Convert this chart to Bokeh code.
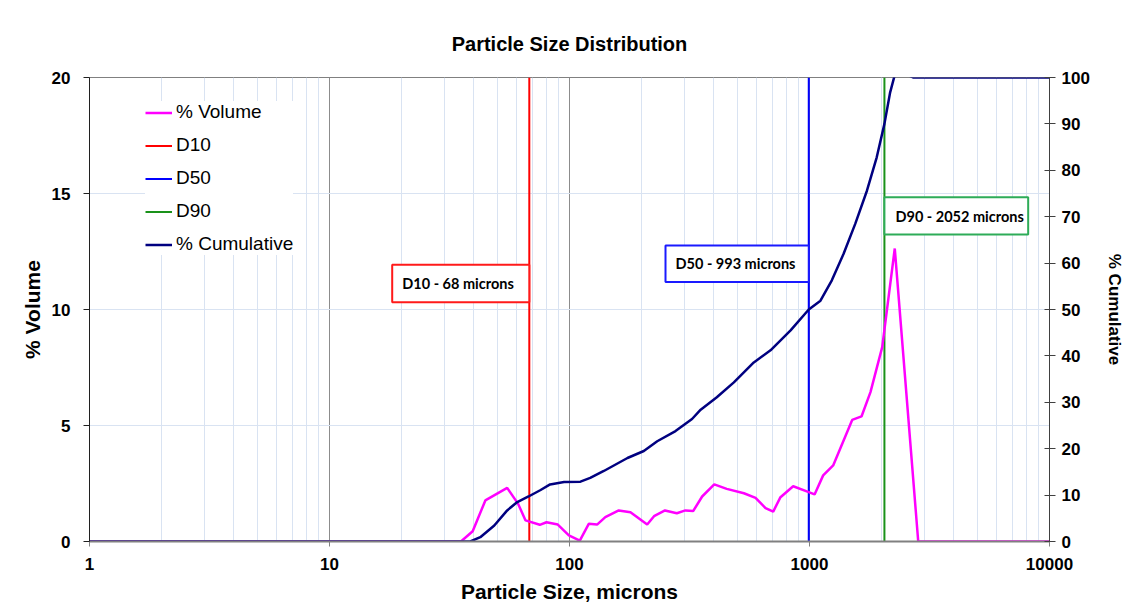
from bokeh.plotting import figure
from bokeh.models import (Range1d, LinearAxis, FixedTicker, Legend, LegendItem,
                          CustomJSTickFormatter)
from bokeh.embed import file_html
from bokeh.resources import INLINE
from bokeh.core.properties import value

# ---------------- data ----------------
size_vol = [1, 35.3, 39.5, 44.6, 55.0, 61.1, 65.6, 75.2, 80.2, 89.4, 99.4, 110.4,
            120.3, 130.3, 141, 160.4, 179.5, 210.7, 225, 250, 280, 304, 327.5, 357,
            401, 452, 533, 596, 656, 706, 757, 855, 993, 1050, 1140, 1255, 1506,
            1647, 1795, 2009, 2266, 2838, 10000]
pct_vol = [0, 0, 0.44, 1.77, 2.31, 1.62, 0.91, 0.72, 0.83, 0.73, 0.26, 0.04,
           0.76, 0.73, 1.05, 1.34, 1.26, 0.73, 1.09, 1.34, 1.22, 1.34, 1.31, 1.94,
           2.46, 2.27, 2.08, 1.88, 1.44, 1.29, 1.91, 2.38, 2.13, 2.03, 2.85, 3.28, 5.24,
           5.39, 6.44, 8.38, 12.63, 0, 0]

size_cum = [1, 38.6, 42.5, 48.6, 55.0, 60.6, 67.5, 75.8, 83.0, 94.9, 111.1, 122,
            139, 174.4, 204, 232, 276.5, 324, 352, 411, 484, 586, 688, 834, 993,
            1111, 1239, 1387, 1552, 1735, 1906, 2052, 2168, 2262, 2500, 2713, 10000]
pct_cum = [0, 0, 0.93, 3.45, 6.7, 8.5, 9.7, 11.1, 12.3, 12.8, 12.9, 13.7,
           15.2, 18.0, 19.5, 21.6, 23.8, 26.4, 28.4, 31.1, 34.3, 38.6, 41.2, 45.5, 50.0,
           51.9, 56.3, 62.0, 68.5, 75.6, 82.8, 90.0, 96.8, 100.4, 100.8, 100.0, 100.0]

d_names = ["D10", "D50", "D90"]
d_values = [68, 993, 2052]
d_labels = ["D10 - 68 microns", "D50 - 993 microns", "D90 - 2052 microns"]

x_ticks = [1, 10, 100, 1000, 10000]
y_ticks = [0, 5, 10, 15, 20]
cum_ticks = [0, 10, 20, 30, 40, 50, 60, 70, 80, 90, 100]

# ---------------- styles / layout ----------------
PINK = "#ff00ff"
NAVY = "#000080"
D_LINE_COLORS = ["#ff0000", "#0000ff", "#1a921a"]
D_BOX_COLORS = ["#ff1a1a", "#1a1aff", "#2eac58"]
MINOR_GRID = "#d9e3f2"
MAJOR_GRID = "#8c8c8c"
FONT = "Liberation Sans"

# annotation boxes (data coordinates)
box_left = [18.25, 251.2, 2052]
box_right = [68, 993, 8150]
box_bottom = [10.31, 11.18, 13.23]
box_top = [11.93, 12.76, 14.84]
text_x = [20.1, 276.5, 2281]
text_y = [11.12, 11.97, 14.03]

p = figure(x_axis_type="log", x_range=Range1d(1, 10000), y_range=Range1d(0, 20),
           frame_width=960, frame_height=464,
           min_border_left=89, min_border_right=74, min_border_top=77, min_border_bottom=62,
           output_backend="svg", toolbar_location=None,
           background_fill_color="white", border_fill_color="white")

p.extra_y_ranges = {"cum": Range1d(0, 100)}

# title
p.title.text = "Particle Size Distribution"
p.title.align = "center"
p.title.text_font = FONT
p.title.text_font_size = "20px"
p.title.text_font_style = "bold"
p.title.text_color = "black"
p.title.standoff = 45

# x axis
minor = [k * 10 ** d for d in range(0, 4) for k in range(2, 10)]
xt = FixedTicker(ticks=x_ticks, minor_ticks=minor)
p.xaxis.ticker = xt
p.xgrid.ticker = xt
p.xaxis.formatter = CustomJSTickFormatter(code="return String(Math.round(tick));")
p.xaxis.axis_label = "Particle Size, microns"
p.xaxis.axis_label_text_font = FONT
p.xaxis.axis_label_text_font_size = "21px"
p.xaxis.axis_label_text_font_style = "bold"
p.xaxis.axis_label_text_color = "black"
p.xaxis.axis_label_standoff = 7
p.xaxis.major_label_text_font = FONT
p.xaxis.major_label_text_font_size = "17px"
p.xaxis.major_label_text_font_style = "bold"
p.xaxis.major_label_text_color = "black"
p.xaxis.major_label_standoff = 11
p.xaxis.major_tick_out = 5
p.xaxis.major_tick_in = 0
p.xaxis.minor_tick_line_color = None
p.xaxis.axis_line_color = "#808080"
p.xaxis.axis_line_width = 2
p.xaxis.major_tick_line_color = "#808080"

# left axis
yt = FixedTicker(ticks=y_ticks)
p.yaxis.ticker = yt
p.ygrid.ticker = yt
p.yaxis.axis_label = "% Volume"
p.yaxis.axis_label_text_font = FONT
p.yaxis.axis_label_text_font_size = "21px"
p.yaxis.axis_label_text_font_style = "bold"
p.yaxis.axis_label_text_color = "black"
p.yaxis.axis_label_standoff = 5
p.yaxis.major_label_text_font = FONT
p.yaxis.major_label_text_font_size = "17px"
p.yaxis.major_label_text_font_style = "bold"
p.yaxis.major_label_text_color = "black"
p.yaxis.major_label_standoff = 13
p.yaxis.major_tick_out = 6
p.yaxis.major_tick_in = 0
p.yaxis.minor_tick_line_color = None
p.yaxis.axis_line_color = "#202020"
p.yaxis.major_tick_line_color = "#202020"

# right axis
ra = LinearAxis(y_range_name="cum", ticker=FixedTicker(ticks=cum_ticks))
ra.axis_label = "% Cumulative"
ra.axis_label_text_font = FONT
ra.axis_label_text_font_size = "17px"
ra.axis_label_text_font_style = "bold"
ra.axis_label_text_color = "black"
ra.axis_label_standoff = 12
ra.major_label_text_font = FONT
ra.major_label_text_font_size = "17px"
ra.major_label_text_font_style = "bold"
ra.major_label_text_color = "black"
ra.major_label_standoff = 6
ra.major_tick_out = 6
ra.major_tick_in = 5
ra.minor_tick_line_color = None
ra.axis_line_color = "#404040"
ra.major_tick_line_color = "#404040"
p.add_layout(ra, "right")

# grids
p.xgrid.grid_line_color = MAJOR_GRID
p.xgrid.minor_grid_line_color = MINOR_GRID
p.ygrid.grid_line_color = MINOR_GRID
p.outline_line_color = "#808080"
p.outline_line_width = 1

# D lines
d_renderers = []
for dv, col in zip(d_values, D_LINE_COLORS):
    r = p.line([dv, dv], [0, 20], line_color=col, line_width=2)
    d_renderers.append(r)

# annotation boxes
p.quad(left=box_left, right=box_right, bottom=box_bottom, top=box_top,
       fill_color="white", line_color=D_BOX_COLORS, line_width=2)
p.text(x=text_x, y=text_y, text=d_labels, text_font=value("Lato"),
       text_font_style="bold", text_font_size="14.5px", text_color="black",
       text_align="left", text_baseline="middle")

# curves
r_vol = p.line(size_vol, pct_vol, line_color=PINK, line_width=2.5)
r_cum = p.line(size_cum, pct_cum, line_color=NAVY, line_width=2.5, y_range_name="cum")

legend = Legend(items=[
    LegendItem(label="% Volume", renderers=[r_vol]),
    LegendItem(label=d_names[0], renderers=[d_renderers[0]]),
    LegendItem(label=d_names[1], renderers=[d_renderers[1]]),
    LegendItem(label=d_names[2], renderers=[d_renderers[2]]),
    LegendItem(label="% Cumulative", renderers=[r_cum]),
], location=(56, 286))
legend.label_text_font = FONT
legend.label_text_font_size = "19px"
legend.label_text_color = "black"
legend.glyph_width = 27
legend.glyph_height = 21
legend.label_height = 21
legend.label_standoff = 4
legend.spacing = 11
legend.padding = 8
legend.margin = 0
legend.border_line_color = None
legend.background_fill_color = "white"
legend.background_fill_alpha = 1.0
p.add_layout(legend)

open("out.html", "w").write(file_html(p, INLINE))
